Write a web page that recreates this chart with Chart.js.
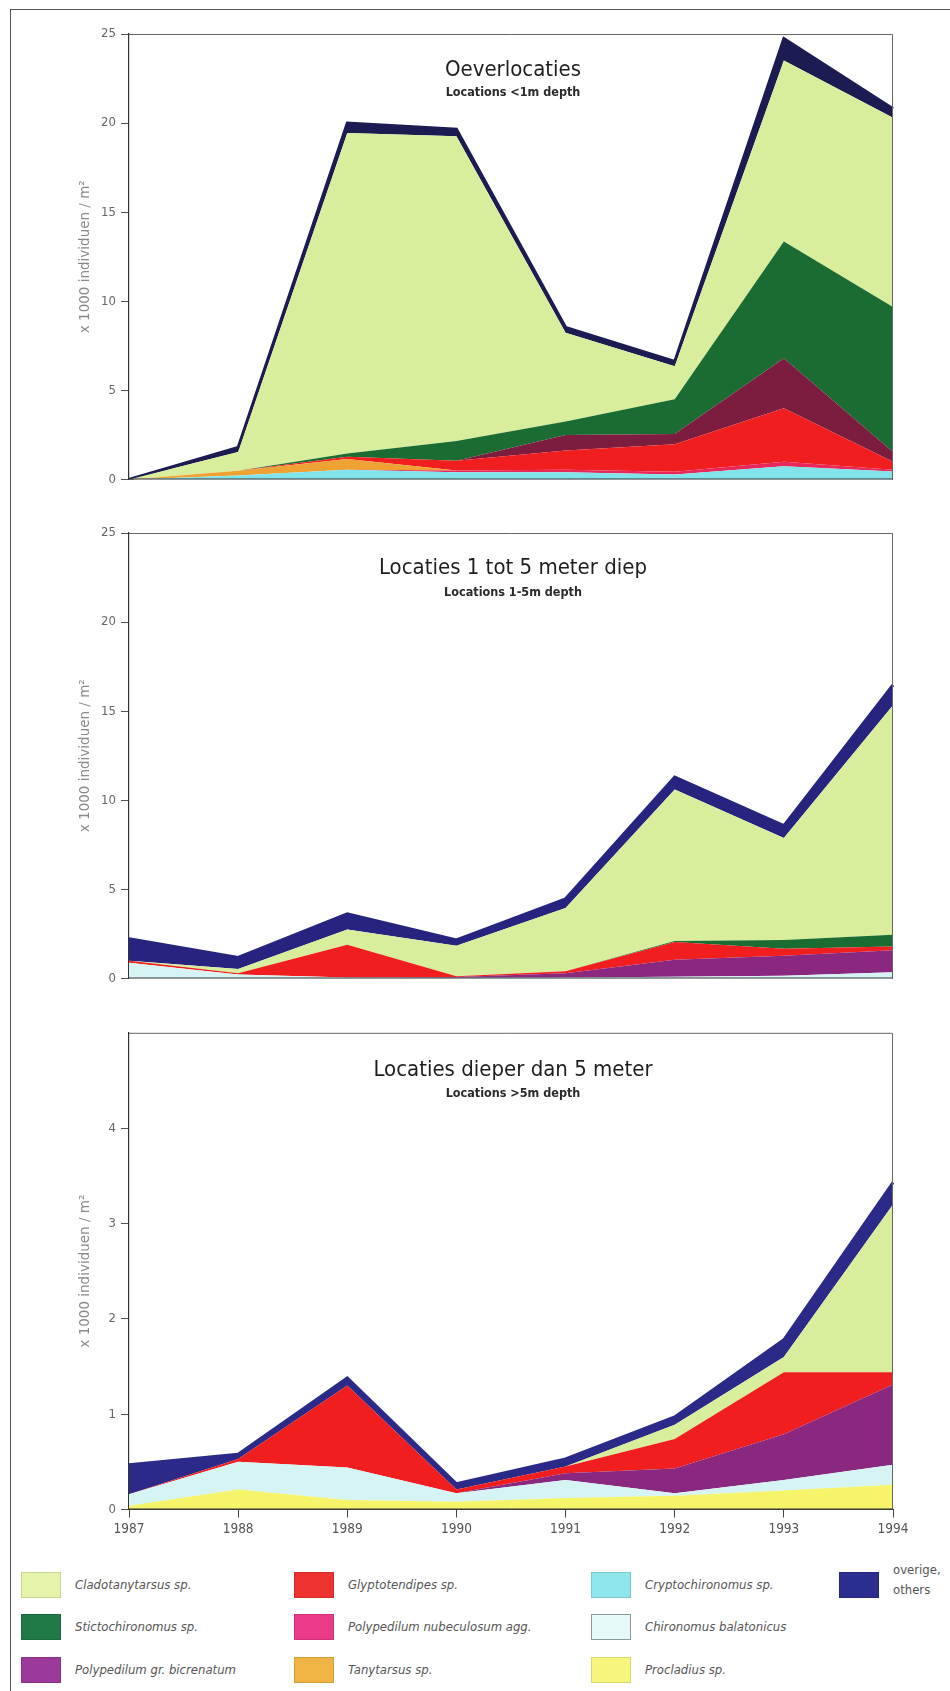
<!DOCTYPE html>
<html>
<head>
<meta charset="utf-8">
<script src="https://cdn.jsdelivr.net/npm/chart.js@4.4.1/dist/chart.umd.min.js"></script>
<style>
  html, body { margin: 0; padding: 0; background: #fff; }
  #page { position: relative; width: 950px; height: 1691px; overflow: hidden; background: #fff; }
  .frame-top { position: absolute; left: 10px; top: 9px; width: 940px; height: 0; border-top: 1.5px solid #555; }
  .frame-left { position: absolute; left: 10px; top: 9px; width: 0; height: 1682px; border-left: 1.5px solid #555; }
  canvas { position: absolute; left: 0; }
  .lg { position: absolute; font-family: 'DejaVu Sans Condensed', 'Liberation Sans Narrow', sans-serif; font-style: italic; font-size: 13px; color: #555; line-height: 18px; white-space: nowrap; }
  .sw { position: absolute; width: 40px; height: 26px; box-sizing: border-box; }
</style>
</head>
<body>
<div id="page">
  <div class="frame-top"></div>
  <div class="frame-left"></div>
  <canvas id="shore" width="950" height="520" style="top:0px;width:950px;height:520px"></canvas>
  <canvas id="mid" width="950" height="500" style="top:520px;width:950px;height:500px"></canvas>
  <canvas id="deep" width="950" height="530" style="top:1020px;width:950px;height:530px"></canvas>
  <div id="legend"></div>
</div>
<script>
// Sampling years
const years = ['1987', '1988', '1989', '1990', '1991', '1992', '1993', '1994'];

// Oeverlocaties (< 1 m), x 1000 individuals / m2, per taxon
const shoreCrypto = [0, 0.23, 0.55, 0.40, 0.40, 0.28, 0.75, 0.45];
const shoreNubec  = [0, 0, 0, 0.10, 0.15, 0.15, 0.25, 0.10];
const shoreTany   = [0, 0.26, 0.60, 0, 0, 0, 0, 0];
const shoreGlypto = [0, 0, 0.13, 0.55, 1.08, 1.55, 3.00, 0.45];
const shoreBicren = [0, 0, 0, 0, 0.87, 0.57, 2.80, 0.54];
const shoreSticto = [0, 0, 0.18, 1.11, 0.75, 1.95, 6.56, 8.14];
const shoreClado  = [0, 1.06, 17.99, 17.10, 4.98, 1.86, 10.15, 10.62];
const shoreOther  = [0, 0.25, 0.55, 0.40, 0.31, 0.26, 1.23, 0.50];

// Locaties 1 tot 5 meter diep
const midBalaton = [0.88, 0.23, 0.06, 0.04, 0.06, 0.10, 0.15, 0.35];
const midBicren  = [0, 0, 0, 0.04, 0.24, 0.95, 1.13, 1.23];
const midGlypto  = [0.12, 0.07, 1.84, 0.04, 0.10, 1.00, 0.39, 0.22];
const midSticto  = [0, 0, 0, 0, 0, 0.05, 0.49, 0.66];
const midClado   = [0, 0.23, 0.85, 1.72, 3.55, 8.50, 5.72, 12.87];
const midOther   = [1.23, 0.65, 0.88, 0.32, 0.52, 0.70, 0.70, 1.14];

// Locaties dieper dan 5 meter
const deepProcl   = [0.04, 0.21, 0.10, 0.08, 0.12, 0.145, 0.20, 0.26];
const deepBalaton = [0.12, 0.29, 0.34, 0.09, 0.19, 0.025, 0.11, 0.21];
const deepBicren  = [0, 0, 0, 0, 0.07, 0.26, 0.48, 0.84];
const deepGlypto  = [0, 0.03, 0.86, 0.04, 0.07, 0.31, 0.65, 0.13];
const deepClado   = [0, 0, 0, 0, 0, 0.15, 0.16, 1.76];
const deepOther   = [0.31, 0.05, 0.08, 0.06, 0.08, 0.08, 0.18, 0.23];

// Axis ticks
const yTicksShallow = [0, 5, 10, 15, 20, 25];
const yTicksDeep = [0, 1, 2, 3, 4];

const TAXA = {
  clado:   { name: 'Cladotanytarsus sp.', color: '#d9ee9c', swatch: '#e4f4ab' },
  sticto:  { name: 'Stictochironomus sp.', color: '#1b6c32', swatch: '#1f7a48' },
  bicren:  { name: 'Polypedilum gr. bicrenatum', color: '#8a2880', swatch: '#9b3a9a' },
  glypto:  { name: 'Glyptotendipes sp.', color: '#f01e1e', swatch: '#ee3330' },
  nubec:   { name: 'Polypedilum nubeculosum agg.', color: '#e8285a', swatch: '#ec3a8a' },
  tany:    { name: 'Tanytarsus sp.', color: '#efa234', swatch: '#f0b444' },
  crypto:  { name: 'Cryptochironomus sp.', color: '#80e4ea', swatch: '#8ee6ec' },
  balaton: { name: 'Chironomus balatonicus', color: '#d6f4f4', swatch: '#e6fafa' },
  procl:   { name: 'Procladius sp.', color: '#f5f46a', swatch: '#f7f57c' },
  other:   { name: 'overige, others', color: '#2a2a86', swatch: '#2b2e8e' }
};

const FONT_COND = "'DejaVu Sans Condensed', 'Liberation Sans Narrow', sans-serif";

function layer(key, values, idx, overrideColor) {
  const c = overrideColor || TAXA[key].color;
  return {
    label: TAXA[key].name,
    data: values,
    backgroundColor: c,
    borderColor: c,
    borderWidth: 0,
    pointRadius: 0,
    tension: 0,
    fill: idx === 0 ? 'origin' : '-1'
  };
}

function topLayer(values, color, width) {
  return {
    label: TAXA.other.name,
    data: values,
    backgroundColor: color,
    borderColor: color,
    borderWidth: width,
    borderJoinStyle: 'miter',
    pointRadius: 0,
    tension: 0,
    fill: '-1'
  };
}

// Draws the panel heading and the box around the plot area
const panelDecor = {
  id: 'panelDecor',
  afterDatasetsDraw(chart, args, opts) {
    const { ctx, chartArea: a } = chart;
    ctx.save();
    ctx.strokeStyle = '#666';
    ctx.lineWidth = 1;
    ctx.beginPath();
    ctx.moveTo(a.left, a.top + 0.5);
    ctx.lineTo(a.right - 0.5, a.top + 0.5);
    ctx.lineTo(a.right - 0.5, a.bottom);
    ctx.stroke();
    ctx.strokeStyle = '#333';
    ctx.beginPath();
    ctx.moveTo(a.left, a.bottom - 0.5);
    ctx.lineTo(a.right, a.bottom - 0.5);
    ctx.stroke();
    const cx = (a.left + a.right) / 2 + 2;
    ctx.fillStyle = '#1e1e1e';
    ctx.textAlign = 'center';
    ctx.textBaseline = 'middle';
    ctx.font = '22px ' + FONT_COND;
    ctx.fillText(opts.title, cx, a.top + opts.titleDy);
    ctx.font = 'bold 12.5px ' + FONT_COND;
    ctx.fillStyle = '#2a2a2a';
    ctx.fillText(opts.subtitle, cx, a.top + opts.subDy);
    ctx.restore();
  }
};

function makeChart(id, datasets, cfg) {
  const tickList = cfg.ticks;
  return new Chart(document.getElementById(id), {
    type: 'line',
    data: { labels: years, datasets },
    plugins: [panelDecor],
    options: {
      responsive: false,
      animation: false,
      devicePixelRatio: 1,
      layout: { padding: cfg.padding },
      plugins: {
        legend: { display: false },
        tooltip: { enabled: false },
        panelDecor: { title: cfg.title, subtitle: cfg.subtitle, titleDy: cfg.titleDy, subDy: cfg.subDy }
      },
      scales: {
        x: {
          display: cfg.showX,
          offset: false,
          grid: { drawOnChartArea: false, drawTicks: true, tickLength: 8, color: '#444' },
          border: { display: true, color: '#333' },
          ticks: { color: '#555', font: { family: FONT_COND, size: 13.5 }, padding: 4, maxRotation: 0, autoSkip: false },
          afterFit(scale) { scale.height = 30; }
        },
        y: {
          stacked: true,
          min: 0,
          max: cfg.max,
          afterBuildTicks(scale) {
            scale.ticks = tickList.map(v => ({ value: v }));
          },
          afterFit(scale) { scale.width = 55; },
          grid: { drawOnChartArea: false, drawTicks: true, tickLength: 8, color: '#555' },
          border: { display: true, color: '#333', width: 1.2 },
          ticks: { color: '#666', font: { family: FONT_COND, size: 13 }, padding: 5 },
          title: {
            display: true,
            text: 'x 1000 individuen / m\u00B2',
            color: '#8a8a8a',
            font: { family: "'DejaVu Sans', sans-serif", size: 13.5 },
            padding: { top: 3, bottom: 4 }
          }
        }
      }
    }
  });
}

makeChart('shore', [
  layer('crypto', shoreCrypto, 0),
  layer('nubec', shoreNubec, 1),
  layer('tany', shoreTany, 2),
  layer('glypto', shoreGlypto, 3),
  layer('bicren', shoreBicren, 4, '#7c1c3e'),
  layer('sticto', shoreSticto, 5),
  layer('clado', shoreClado, 6),
  topLayer(shoreOther, '#1c1b52', 3)
], {
  padding: { left: 74, right: 57, top: 34, bottom: 10.5 },
  max: 25, ticks: yTicksShallow, showX: false,
  title: 'Oeverlocaties', subtitle: 'Locations <1m depth', titleDy: 36, subDy: 59
});

makeChart('mid', [
  layer('balaton', midBalaton, 0),
  layer('bicren', midBicren, 1),
  layer('glypto', midGlypto, 2),
  layer('sticto', midSticto, 3),
  layer('clado', midClado, 4),
  topLayer(midOther, '#26247e', 3)
], {
  padding: { left: 74, right: 57, top: 13, bottom: 11.5 },
  max: 25, ticks: yTicksShallow, showX: false,
  title: 'Locaties 1 tot 5 meter diep', subtitle: 'Locations 1-5m depth', titleDy: 35, subDy: 60
});

makeChart('deep', [
  layer('procl', deepProcl, 0),
  layer('balaton', deepBalaton, 1),
  layer('bicren', deepBicren, 2),
  layer('glypto', deepGlypto, 3),
  layer('clado', deepClado, 4),
  topLayer(deepOther, '#2b2a88', 3)
], {
  padding: { left: 74, right: 57, top: 11, bottom: 10.5 },
  max: 5, ticks: yTicksDeep, showX: true,
  title: 'Locaties dieper dan 5 meter', subtitle: 'Locations >5m depth', titleDy: 37, subDy: 61
});

// Legend: three rows, four columns
const legendItems = [
  { key: 'clado', col: 0, row: 0 }, { key: 'glypto', col: 1, row: 0 }, { key: 'crypto', col: 2, row: 0 }, { key: 'other', col: 3, row: 0 },
  { key: 'sticto', col: 0, row: 1 }, { key: 'nubec', col: 1, row: 1 }, { key: 'balaton', col: 2, row: 1 },
  { key: 'bicren', col: 0, row: 2 }, { key: 'tany', col: 1, row: 2 }, { key: 'procl', col: 2, row: 2 }
];
const colX = [21, 294, 591, 839];
const rowY = [1572, 1614, 1657];
const legend = document.getElementById('legend');
legendItems.forEach(it => {
  const t = TAXA[it.key];
  const sw = document.createElement('div');
  sw.className = 'sw';
  sw.style.left = colX[it.col] + 'px';
  sw.style.top = rowY[it.row] + 'px';
  sw.style.background = t.swatch;
  sw.style.border = it.key === 'balaton' ? '1px solid #8a9a9a' : '1px solid rgba(0,0,0,0.12)';
  legend.appendChild(sw);
  const tx = document.createElement('div');
  tx.className = 'lg';
  tx.style.left = (colX[it.col] + 54) + 'px';
  if (it.key === 'other') {
    tx.style.top = (rowY[it.row] - 12) + 'px';
    tx.innerHTML = 'overige,<br>others';
    tx.style.fontStyle = 'normal';
    tx.style.lineHeight = '20px';
  } else {
    tx.style.top = (rowY[it.row] + 4) + 'px';
    tx.textContent = t.name;
  }
  legend.appendChild(tx);
});
</script>
</body>
</html>
